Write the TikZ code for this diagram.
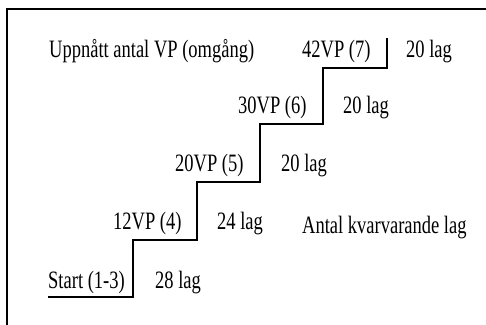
\documentclass[tikz,border=0pt]{standalone}
\usepackage{fontspec}
\setmainfont{Liberation Serif}[FakeStretch=0.74]
\begin{document}
\begin{tikzpicture}[x=1pt,y=-1pt,
  lbl/.style={anchor=base west,inner sep=0pt,font=\fontsize{25}{28}\selectfont},
  stair/.style={line width=2.2pt,line join=miter},
  frame/.style={line width=2pt}]
\useasboundingbox (0,0) rectangle (486,324);
\draw[frame] (7,330) -- (7,9) -- (490,9);
% staircase
\coordinate (s0) at (48,297);
\coordinate (s1) at (133,297);
\coordinate (s2) at (133,240);
\coordinate (s3) at (197,240);
\coordinate (s4) at (197,182);
\coordinate (s5) at (260,182);
\coordinate (s6) at (260,124);
\coordinate (s7) at (323,124);
\coordinate (s8) at (323,68);
\coordinate (s9) at (387,68);
\coordinate (s10) at (387,38);
\draw[stair] (s0) -- (s1) -- (s2) -- (s3) -- (s4) -- (s5) -- (s6) -- (s7) -- (s8) -- (s9) -- (s10);
% labels
\node[lbl] (start) at (48,288) {Start (1-3)};
\node[lbl] (l28) at (155,288) {28 lag};
\node[lbl] (vp12) at (113,229) {12VP (4)};
\node[lbl] (l24) at (217,229) {24 lag};
\node[lbl] (antal) at (302,233) {Antal kvarvarande lag};
\node[lbl] (vp20) at (175,171) {20VP (5)};
\node[lbl] (l20a) at (281,171) {20 lag};
\node[lbl] (vp30) at (238,113) {30VP (6)};
\node[lbl] (l20b) at (343,113) {20 lag};
\node[lbl] (upp) at (49,57) {Uppnått antal VP (omgång)};
\node[lbl] (vp42) at (302,57) {42VP (7)};
\node[lbl] (l20c) at (406,57) {20 lag};
\end{tikzpicture}
\end{document}
